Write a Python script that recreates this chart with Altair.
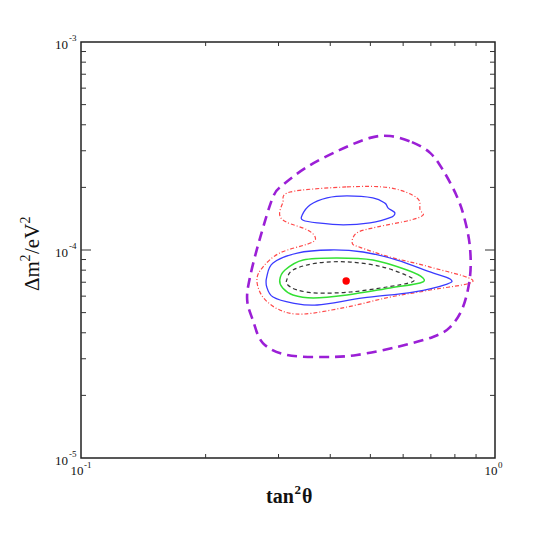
import altair as alt
import pandas as pd

# ---- data (tan^2 theta, Delta m^2 [eV^2]) ----
purple_x = [0.558, 0.630, 0.697, 0.749, 0.810, 0.846, 0.870, 0.870, 0.837, 0.779, 0.708, 0.580, 0.464,
            0.393, 0.314, 0.275, 0.260, 0.252, 0.256, 0.271, 0.291, 0.307, 0.352, 0.422, 0.499]
purple_y = [3.53e-4, 3.30e-4, 2.93e-4, 2.42e-4, 1.80e-4, 1.39e-4, 1.03e-4, 7.42e-5, 5.32e-5, 4.26e-5, 3.82e-5, 3.42e-5, 3.13e-5,
            3.06e-5, 3.13e-5, 3.57e-5, 4.61e-5, 5.75e-5, 7.42e-5, 1.15e-4, 1.80e-4, 2.05e-4, 2.51e-4, 3.03e-4, 3.46e-4]

red_x = [0.320, 0.439, 0.558, 0.648, 0.659, 0.670, 0.623, 0.519, 0.464, 0.452, 0.472, 0.558, 0.697, 0.885, 0.697,
         0.558, 0.439, 0.344, 0.302, 0.275, 0.266, 0.275, 0.302, 0.358, 0.368, 0.352, 0.314, 0.302, 0.307]
red_y = [1.90e-4, 2.01e-4, 1.99e-4, 1.78e-4, 1.56e-4, 1.47e-4, 1.39e-4, 1.29e-4, 1.21e-4, 1.08e-4, 1.03e-4, 9.25e-5, 8.28e-5, 7.10e-5, 6.42e-5,
         5.94e-5, 5.32e-5, 4.92e-5, 5.15e-5, 5.94e-5, 7.17e-5, 8.28e-5, 9.67e-5, 1.08e-4, 1.15e-4, 1.25e-4, 1.36e-4, 1.47e-4, 1.68e-4]

blue_up_x = [0.342, 0.358, 0.393, 0.439, 0.507, 0.542, 0.552, 0.573, 0.558, 0.499, 0.430, 0.372, 0.344]
blue_up_y = [1.47e-4, 1.65e-4, 1.78e-4, 1.82e-4, 1.78e-4, 1.68e-4, 1.59e-4, 1.51e-4, 1.43e-4, 1.35e-4, 1.32e-4, 1.35e-4, 1.39e-4]

blue_lo_x = [0.281, 0.291, 0.333, 0.400, 0.480, 0.580, 0.697, 0.779, 0.766, 0.634, 0.480, 0.372, 0.325, 0.291, 0.281]
blue_lo_y = [7.42e-5, 8.66e-5, 9.67e-5, 1.00e-4, 9.78e-5, 8.95e-5, 7.84e-5, 7.25e-5, 6.86e-5, 6.28e-5, 5.88e-5, 5.44e-5, 5.56e-5, 5.94e-5, 6.64e-5]

green_x = [0.302, 0.311, 0.344, 0.415, 0.507, 0.613, 0.670, 0.659, 0.558, 0.439, 0.364, 0.325, 0.307]
green_y = [7.17e-5, 8.01e-5, 8.95e-5, 9.15e-5, 8.95e-5, 8.01e-5, 7.33e-5, 6.94e-5, 6.57e-5, 6.08e-5, 5.88e-5, 6.08e-5, 6.57e-5]

black_x = [0.314, 0.325, 0.372, 0.447, 0.536, 0.623, 0.630, 0.548, 0.447, 0.372, 0.333, 0.316]
black_y = [7.17e-5, 8.01e-5, 8.66e-5, 8.75e-5, 8.28e-5, 7.42e-5, 7.02e-5, 6.64e-5, 6.28e-5, 6.21e-5, 6.42e-5, 6.79e-5]

best_x = [0.437]
best_y = [7.10e-5]

# axis ticks / labels
x_minor = [0.2, 0.3, 0.4, 0.5, 0.6, 0.7, 0.8, 0.9]
y_minor = [2e-5, 3e-5, 4e-5, 5e-5, 6e-5, 7e-5, 8e-5, 9e-5, 2e-4, 3e-4, 4e-4, 5e-4, 6e-4, 7e-4, 8e-4, 9e-4]
y_major = [1e-4]
x_lab_vals = [0.1, 1.0]
x_lab_exp = ["-1", "0"]
y_lab_vals = [1e-5, 1e-4, 1e-3]
y_lab_exp = ["-5", "-4", "-3"]
# axis titles split into normal / superscript pieces
x_title_parts = ["tan", "2", "θ"]
y_title_parts = ["Δm", "2", "/eV", "2"]

W, H = 414, 416
FONT = "Liberation Serif"

xs = alt.Scale(type="log", domain=[0.1, 1.0])
ys = alt.Scale(type="log", domain=[1e-5, 1e-3])


def X(f="x"):
    return alt.X(f"{f}:Q", scale=xs, axis=None)


def Y(f="y"):
    return alt.Y(f"{f}:Q", scale=ys, axis=None)


def contour(parts, color, width, dash=None):
    rows = []
    for k, (px, py) in enumerate(parts):
        for i, (a, b) in enumerate(zip(px, py)):
            rows.append({"x": a, "y": b, "i": i, "part": k})
    df = pd.DataFrame(rows)
    kw = dict(stroke=color, strokeWidth=width, interpolate="cardinal-closed", clip=True)
    if dash:
        kw["strokeDash"] = dash
    return alt.Chart(df).mark_line(**kw).encode(
        x=X(), y=Y(), order=alt.Order("i:Q"), detail="part:N"
    )


layers = [
    contour([(purple_x, purple_y)], "#9b1fd6", 2.6, [10, 6]),
    contour([(red_x, red_y)], "#ff4848", 1.2, [4, 2, 1, 2]),
    contour([(blue_up_x, blue_up_y), (blue_lo_x, blue_lo_y)], "#3a3aff", 1.3),
    contour([(green_x, green_y)], "#33e033", 1.5),
    contour([(black_x, black_y)], "#333333", 1.2, [4, 3]),
    alt.Chart(pd.DataFrame({"x": best_x, "y": best_y})).mark_circle(
        size=55, color="#ff0000", opacity=1
    ).encode(x=X(), y=Y()),
]

# ticks (inward, all four sides)
tick_col = "#333333"
xm = pd.DataFrame({"x": x_minor})
ymn = pd.DataFrame({"y": y_minor})
ymj = pd.DataFrame({"y": y_major})
layers += [
    alt.Chart(xm).mark_rule(color=tick_col, strokeWidth=1).encode(x=X(), y=alt.value(H), y2=alt.value(H - 4)),
    alt.Chart(xm).mark_rule(color=tick_col, strokeWidth=1).encode(x=X(), y=alt.value(0), y2=alt.value(4)),
    alt.Chart(ymn).mark_rule(color=tick_col, strokeWidth=1).encode(y=Y(), x=alt.value(0), x2=alt.value(5)),
    alt.Chart(ymn).mark_rule(color=tick_col, strokeWidth=1).encode(y=Y(), x=alt.value(W), x2=alt.value(W - 5)),
    alt.Chart(ymj).mark_rule(color=tick_col, strokeWidth=1).encode(y=Y(), x=alt.value(0), x2=alt.value(10)),
    alt.Chart(ymj).mark_rule(color=tick_col, strokeWidth=1).encode(y=Y(), x=alt.value(W), x2=alt.value(W - 10)),
]

# tick labels 10^n
xl = pd.DataFrame({"x": x_lab_vals, "e": x_lab_exp})
yl = pd.DataFrame({"y": y_lab_vals, "e": y_lab_exp})
layers += [
    alt.Chart(xl).mark_text(font=FONT, fontSize=13, align="center", baseline="middle", dx=-4, color="#111")
    .encode(x=X(), y=alt.value(H + 13), text=alt.value("10")),
    alt.Chart(xl).mark_text(font=FONT, fontSize=9, align="left", baseline="middle", dx=3, color="#111")
    .encode(x=X(), y=alt.value(H + 7), text="e:N"),
    alt.Chart(yl).mark_text(font=FONT, fontSize=13, align="right", baseline="middle", dy=3, color="#111")
    .encode(y=Y(), x=alt.value(-13), text=alt.value("10")),
    alt.Chart(yl).mark_text(font=FONT, fontSize=9, align="left", baseline="middle", dy=-4, color="#111")
    .encode(y=Y(), x=alt.value(-12), text="e:N"),
]


def piece(txt, size, xv, yv, angle=0, bold=False):
    kw = dict(font=FONT, fontSize=size, align="left", baseline="middle", color="#111")
    if angle:
        kw["angle"] = angle
    if bold:
        kw["fontWeight"] = "bold"
    return alt.Chart(pd.DataFrame({"t": [txt]})).mark_text(**kw).encode(
        x=alt.value(xv), y=alt.value(yv), text="t:N"
    )


# x title: tan^2 theta (bold), centred under the plot
x0 = W / 2 - 22
layers += [
    piece(x_title_parts[0], 20, x0, H + 39, bold=True),
    piece(x_title_parts[1], 13, x0 + 28.5, H + 32, bold=True),
    piece(x_title_parts[2], 20, x0 + 36, H + 39, bold=True),
]

# y title: Delta m^2 / eV^2, rotated, reading bottom to top
yb = 249
layers += [
    piece(y_title_parts[0], 21, -48, yb, angle=270),
    piece(y_title_parts[1], 14, -55, yb - 29.5, angle=270),
    piece(y_title_parts[2], 21, -48, yb - 37, angle=270),
    piece(y_title_parts[3], 14, -55, yb - 67.5, angle=270),
]

chart = alt.layer(*layers).properties(
    width=W,
    height=H,
    autosize=alt.AutoSizeParams(type="none"),
    padding={"left": 73, "top": 34, "right": 51, "bottom": 88},
    background="white",
).configure_view(stroke="#222222", strokeWidth=1.5)

chart.save("out.html", embed_options={"renderer": "svg", "actions": False})
